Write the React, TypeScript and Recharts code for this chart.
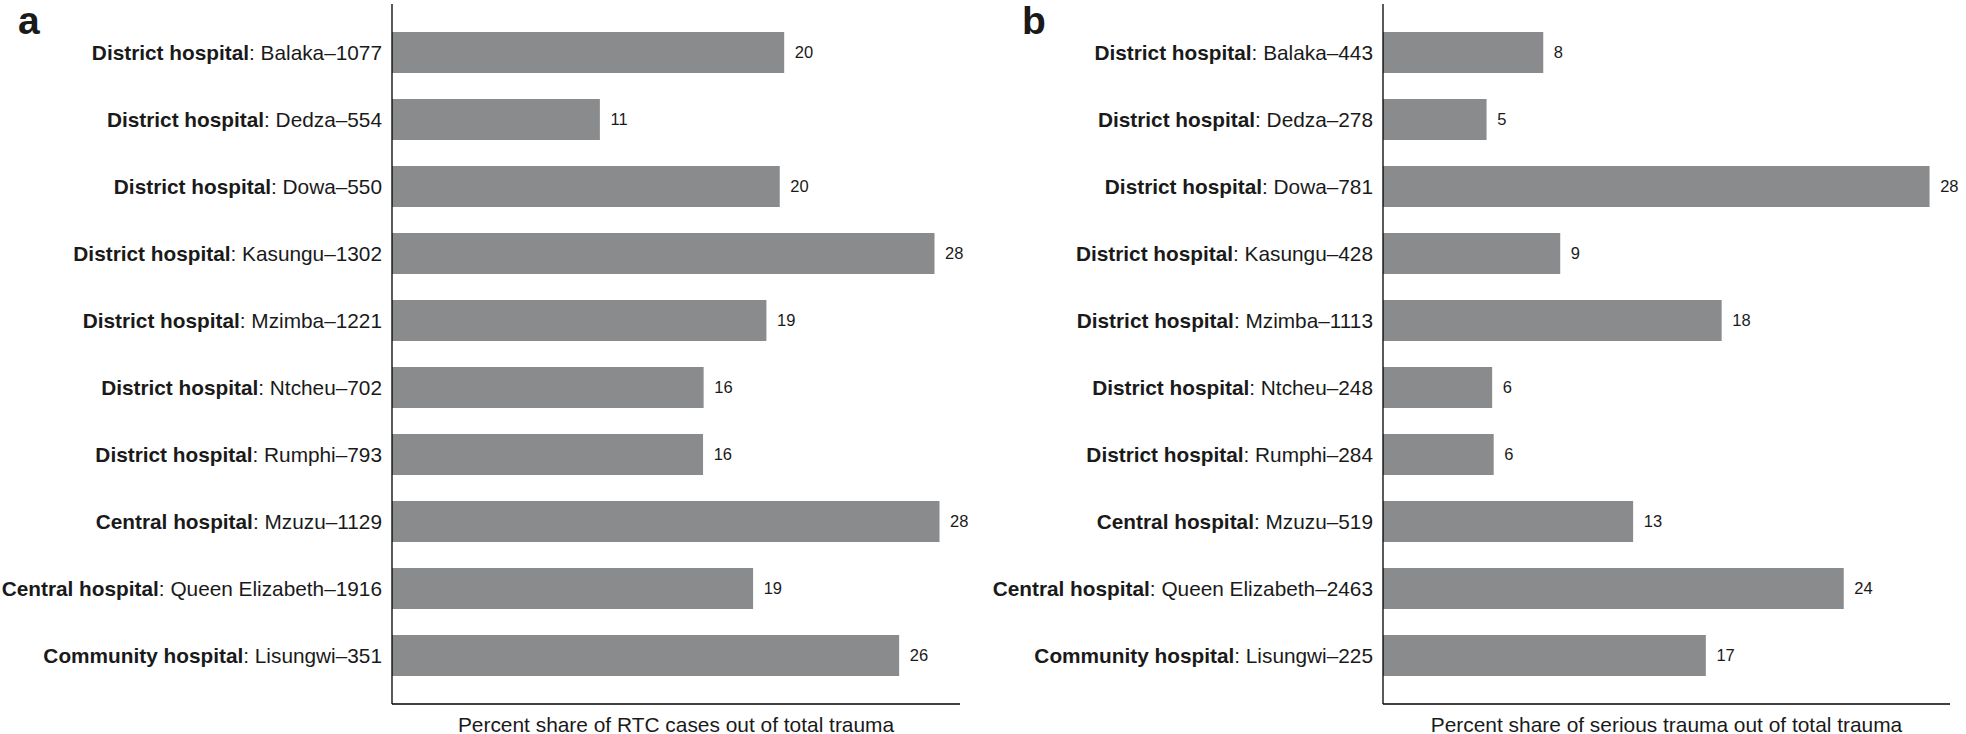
import { BarChart, Bar, XAxis, YAxis, LabelList, Label } from "recharts";

// facility type (bold part of the label)
const facilityTypes = [
  "District hospital",
  "District hospital",
  "District hospital",
  "District hospital",
  "District hospital",
  "District hospital",
  "District hospital",
  "Central hospital",
  "Central hospital",
  "Community hospital",
];

const facilitiesA = [
  "Balaka–1077",
  "Dedza–554",
  "Dowa–550",
  "Kasungu–1302",
  "Mzimba–1221",
  "Ntcheu–702",
  "Rumphi–793",
  "Mzuzu–1129",
  "Queen Elizabeth–1916",
  "Lisungwi–351",
];

const facilitiesB = [
  "Balaka–443",
  "Dedza–278",
  "Dowa–781",
  "Kasungu–428",
  "Mzimba–1113",
  "Ntcheu–248",
  "Rumphi–284",
  "Mzuzu–519",
  "Queen Elizabeth–2463",
  "Lisungwi–225",
];

// percent share of RTC cases out of total trauma
const rtcShare = [20.3, 10.76, 20.07, 28.08, 19.38, 16.13, 16.1, 28.34, 18.69, 26.25];
// percent share of serious trauma out of total trauma
const seriousShare = [8.31, 5.37, 28.34, 9.19, 17.56, 5.66, 5.74, 12.97, 23.89, 16.74];

const titleA = "Percent share of RTC cases out of total trauma";
const titleB = "Percent share of serious trauma out of total trauma";

const FONT = '"Liberation Sans", Arial, Helvetica, sans-serif';
const INK = "#1a1a1a";
const BAR = "#8a8b8d";

const dataA = facilityTypes.map((t, i) => ({ name: `${t}: ${facilitiesA[i]}`, value: rtcShare[i] }));
const dataB = facilityTypes.map((t, i) => ({ name: `${t}: ${facilitiesB[i]}`, value: seriousShare[i] }));

const HospitalTick = (props: any) => {
  const { x, y, payload } = props;
  const idx = String(payload.value).indexOf(": ");
  const kind = String(payload.value).slice(0, idx);
  const rest = String(payload.value).slice(idx);
  return (
    <text x={x} y={y} dy="0.355em" textAnchor="end" fontSize={20.8} fontFamily={FONT} fill={INK}>
      <tspan fontWeight="bold">{kind}</tspan>
      <tspan>{rest}</tspan>
    </text>
  );
};

const Panel = ({ data, title, width, axisWidth, right }: any) => (
  <BarChart
    layout="vertical"
    width={width}
    height={734}
    data={data}
    margin={{ top: 4, right: right, bottom: 0, left: 0 }}
  >
    <XAxis
      type="number"
      domain={[0, 29.4]}
      allowDataOverflow
      tick={false}
      tickLine={false}
      height={30}
      axisLine={{ stroke: "#000", strokeWidth: 1.3 }}
    >
      <Label
        value={title}
        position="insideBottom"
        offset={2.5}
        fontSize={20.9}
        fontFamily={FONT}
        fill={INK}
      />
    </XAxis>
    <YAxis
      type="category"
      dataKey="name"
      width={axisWidth}
      interval={0}
      tickSize={0}
      tickMargin={10}
      tickLine={false}
      axisLine={{ stroke: "#000", strokeWidth: 1.3 }}
      tick={<HospitalTick />}
      padding={{ top: 15, bottom: 15 }}
    />
    <Bar dataKey="value" fill={BAR} barSize={41} isAnimationActive={false}>
      <LabelList
        dataKey="value"
        position="right"
        offset={10.6}
        formatter={(v: any) => Math.round(Number(v))}
        fontSize={16.5}
        fontFamily={FONT}
        fill={INK}
      />
    </Bar>
  </BarChart>
);

export default function App() {
  return (
    <div
      style={{
        position: "absolute",
        left: 0,
        top: 0,
        width: 1966,
        height: 734,
        overflow: "hidden",
        background: "#fff",
      }}
    >
      <div style={{ position: "absolute", left: 0, top: 0 }}>
        <Panel data={dataA} title={titleA} width={980} axisWidth={392} right={20} />
      </div>
      <div style={{ position: "absolute", left: 980, top: 0 }}>
        <Panel data={dataB} title={titleB} width={986} axisWidth={403} right={16} />
      </div>
      <svg
        width={1966}
        height={734}
        style={{ position: "absolute", left: 0, top: 0, pointerEvents: "none" }}
      >
        <text x={18} y={34.3} fontSize={39} fontWeight="bold" fontFamily={FONT} fill={INK}>
          a
        </text>
        <text x={1022} y={34.3} fontSize={39} fontWeight="bold" fontFamily={FONT} fill={INK}>
          b
        </text>
      </svg>
    </div>
  );
}
